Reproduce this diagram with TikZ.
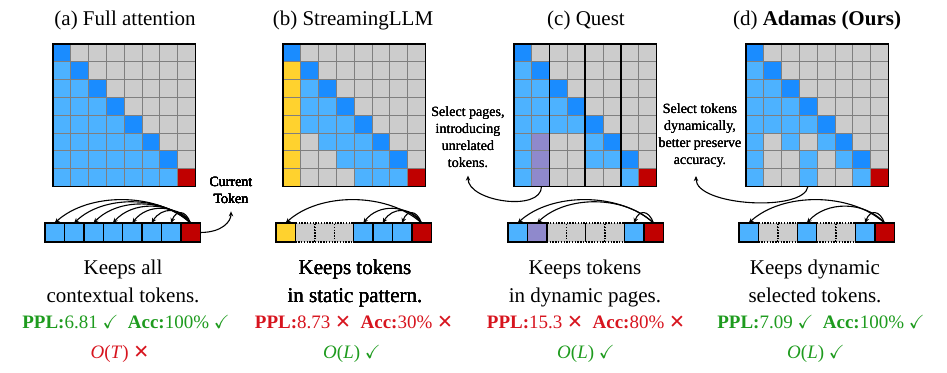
\documentclass[tikz,border=0pt]{standalone}
\usepackage{fontspec}
\setmainfont{Liberation Serif}
\newfontfamily\symfont{DejaVu Sans}
\usepackage{amssymb}
\usetikzlibrary{calc,arrows.meta,positioning}

%% cell colours
\definecolor{cd}{HTML}{1A8CFF} % diagonal
\definecolor{cl}{HTML}{4DB2FF} % kept token
\definecolor{cg}{HTML}{CCCCCC} % dropped token
\definecolor{cr}{HTML}{C00000} % current token
\definecolor{cy}{HTML}{FFD22E} % sink token
\definecolor{cp}{HTML}{8F89CC} % unrelated token
\definecolor{gridgray}{HTML}{7F7F7F}
\definecolor{good}{HTML}{1E9B1E}
\definecolor{bad}{HTML}{D7141E}

\newcommand{\yes}{$\checkmark$}
\newcommand{\no}{{\symfont\bfseries ✕}}

%% 8x8 attention map, #1 = left edge, #2 = rows
\newcommand{\attnmap}[2]{%
  \foreach \cells [count=\r from 0] in {#2} {
    \foreach \c [count=\k from 0] in \cells {
      \fill[c\c, draw=gridgray, line width=1pt]
        ({#1+\k*17.8},{-44-\r*17.8}) rectangle ++(17.8,-17.8);
    }
  }
  \draw[line width=1.6pt] (#1,-44) rectangle ++(142.4,-142.4);
}

%% arc from current token to a kept token
\newcommand{\kvarc}[2]{%
  \draw[kvarrow] let \p1=(#1.north), \p2=(#2.north), \n1={\x1-\x2} in
    (\p1) .. controls ([shift={({-0.25*\n1},{10.5+0.15*\n1})}]\p1)
    and ([shift={({0.25*\n1},{10.5+0.15*\n1})}]\p2) .. (\p2);
}

\tikzset{
  tok/.style={draw, line width=1.4pt, minimum width=19.4pt,
    minimum height=19pt, inner sep=0pt, outer sep=0pt},
  tokl/.style={tok, fill=cl},
  tokr/.style={tok, fill=cr},
  toky/.style={tok, fill=cy},
  tokp/.style={tok, fill=cp},
  tokg/.style={tok, fill=cg, dash pattern=on 1.4pt off 1.4pt},
  kvarrow/.style={-{Stealth[length=5pt,width=4.5pt]}, line width=1.1pt},
  notearrow/.style={-{Stealth[length=5pt,width=4.5pt]}, line width=1.1pt},
  title/.style={font=\fontsize{21}{25}\selectfont, anchor=base},
  keeps/.style={font=\fontsize{21}{28}\selectfont, align=center, anchor=base},
  metric/.style={font=\fontsize{19}{23}\selectfont, anchor=base},
  note/.style={font=\fontsize{14}{17}\selectfont, align=center, inner sep=0pt}
}

\begin{document}
\begin{tikzpicture}[x=1pt, y=1pt]
\useasboundingbox (0,0) rectangle (947,-372);

	%%% (a) Full attention
	\node[title] (ttla) at (125,-25) {(a) Full attention};
	\attnmap{53}{{d,g,g,g,g,g,g,g},{l,d,g,g,g,g,g,g},{l,l,d,g,g,g,g,g},
	  {l,l,l,d,g,g,g,g},{l,l,l,l,d,g,g,g},{l,l,l,l,l,d,g,g},
	  {l,l,l,l,l,l,d,g},{l,l,l,l,l,l,l,r}}
	\foreach \i/\t in {0/l,1/l,2/l,3/l,4/l,5/l,6/l,7/r}
	  \node[tok\t] (ta\i) at ({45+(\i+0.5)*19.4},-232.5) {};
	\foreach \i in {0,...,6} \kvarc{ta7}{ta\i}
	\node[note] (curtok) at (231,-190) {Current\\Token};
	\draw[notearrow] (ta7.east) .. controls +(22,0) and +(0,-10) ..
	  ([yshift=-8pt]curtok.south);
	% base = last line
	\node[keeps] (keepa) at (123,-302) {Keeps all\\contextual tokens.};
	\node[metric, text=good] (ppla) at (126,-328)
	  {\textbf{PPL:}6.81 \yes{}~ \textbf{Acc:}100\% \yes};
	\node[metric, text=bad] (costa) at (120,-358)
	  {\textit{O}(\textit{T}\/) \no};

	%%% (b) StreamingLLM
	\node[title] (ttlb) at (353,-25) {(b) StreamingLLM};
	\attnmap{283}{{d,g,g,g,g,g,g,g},{y,d,g,g,g,g,g,g},{y,l,d,g,g,g,g,g},
	  {y,l,l,d,g,g,g,g},{y,l,l,l,d,g,g,g},{y,g,l,l,l,d,g,g},
	  {y,g,g,l,l,l,d,g},{y,g,g,g,l,l,l,r}}
	% dotted cells first, solid borders on top
	\foreach \i/\t in {1/g,2/g,3/g,0/y,4/l,5/l,6/l,7/r}
	  \node[tok\t] (tb\i) at ({276+(\i+0.5)*19.4},-232.5) {};
	\foreach \i in {0,4,5,6} \kvarc{tb7}{tb\i}
	\node[keeps] (keepb) at (355,-302) {Keeps tokens\\in static pattern.};
	\node[metric, text=bad] (pplb) at (354,-328)
	  {\textbf{PPL:}8.73 \no{}~ \textbf{Acc:}30\% \no};
	\node[metric, text=good] (costb) at (352,-358)
	  {\textit{O}(\textit{L}) \yes};

	%%% (c) Quest
	\node[title] (ttlc) at (586,-25) {(c) Quest};
	\attnmap{514}{{d,g,g,g,g,g,g,g},{l,d,g,g,g,g,g,g},{l,l,d,g,g,g,g,g},
	  {l,l,l,d,g,g,g,g},{l,l,l,l,d,g,g,g},{l,p,g,g,l,d,g,g},
	  {l,p,g,g,l,l,d,g},{l,p,g,g,g,g,l,r}}
	% page borders
	\foreach \k in {2,4,6}
	  \draw[line width=1.6pt] ({514+\k*17.8},-44) -- ++(0,-142.4);
	\foreach \i/\t in {2/g,3/g,4/g,5/g,0/l,1/p,6/l,7/r}
	  \node[tok\t] (tc\i) at ({508+(\i+0.5)*19.4},-232.5) {};
	\draw[line width=1.4pt] (tc3.north east) -- (tc3.south east);
	\foreach \i in {0,1,6} \kvarc{tc7}{tc\i}
	\node[note] (qnote) at (468,-137) {Select pages,\\introducing\\unrelated\\tokens.};
	\coordinate (qpick) at (541.5,-186.4);
	\draw[notearrow] (qpick) .. controls +(0,-26) and +(0,-26) ..
	  ([yshift=-8pt]qnote.south);
	\node[keeps] (keepc) at (585,-302) {Keeps tokens\\in dynamic pages.};
	\node[metric, text=bad] (pplc) at (586,-328)
	  {\textbf{PPL:}15.3 \no{}~ \textbf{Acc:}80\% \no};
	\node[metric, text=good] (costc) at (586,-358)
	  {\textit{O}(\textit{L}) \yes};

	%%% (d) Adamas
	\node[title] (ttld) at (817,-25) {(d) \textbf{Adamas (Ours)}};
	\attnmap{746}{{d,g,g,g,g,g,g,g},{l,d,g,g,g,g,g,g},{l,l,d,g,g,g,g,g},
	  {l,l,l,d,g,g,g,g},{l,l,l,l,d,g,g,g},{l,g,l,g,l,d,g,g},
	  {l,g,g,l,g,l,d,g},{l,g,g,l,g,g,l,r}}
	\foreach \i/\t in {1/g,2/g,4/g,5/g,0/l,3/l,6/l,7/r}
	  \node[tok\t] (td\i) at ({739+(\i+0.5)*19.4},-232.5) {};
	\foreach \i in {0,3,6} \kvarc{td7}{td\i}
	\node[note] (anote) at (700,-136) {Select tokens\\dynamically,\\better preserve\\accuracy.};
	\coordinate (apick) at (808,-186.4);
	\draw[notearrow] (apick) .. controls +(-4,-26) and +(0,-30) ..
	  ([shift={(-4pt,-8pt)}]anote.south);
	\node[keeps] (keepd) at (815,-302) {Keeps dynamic\\selected tokens.};
	\node[metric, text=good] (ppld) at (821,-328)
	  {\textbf{PPL:}7.09 \yes{}~ \textbf{Acc:}100\% \yes};
	\node[metric, text=good] (costd) at (816,-358)
	  {\textit{O}(\textit{L}) \yes};
\end{tikzpicture}
\end{document}
